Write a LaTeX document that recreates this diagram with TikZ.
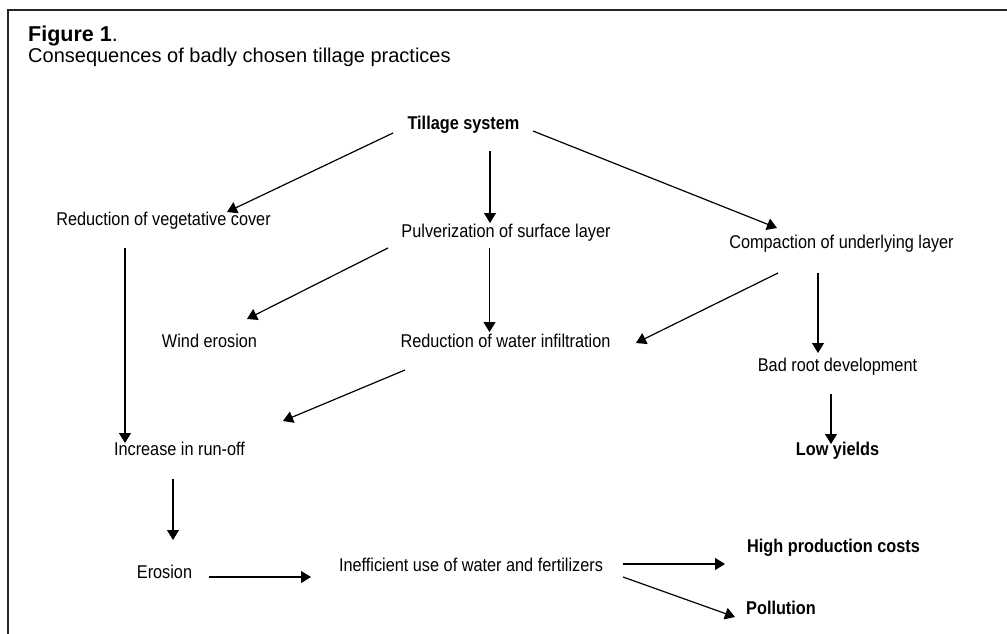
\documentclass[tikz,border=0pt]{standalone}
\usepackage{fontspec}
\setmainfont{Liberation Sans}
\newfontfamily\nf{Liberation Sans}[FakeStretch=0.88]
\usetikzlibrary{arrows.meta}
\tikzset{
  lbl/.style={anchor=base, inner sep=0pt, font=\nf\fontsize{18.5}{21}\selectfont},
  blbl/.style={lbl, font=\nf\bfseries\fontsize{18.5}{21}\selectfont},
  arr/.style={line width=1.2pt, -{Triangle[length=10pt,width=12pt]}},
  frame/.style={line width=2pt, black!85},
}
\begin{document}
\begin{tikzpicture}[x=1pt,y=-1pt]
\useasboundingbox (0,0) rectangle (1007,634);
\fill[white] (0,0) rectangle (1007,634);
\draw[frame] (1007,10.5) -- (8,10.5) -- (8,634);
\node[anchor=base west, inner sep=0pt, font=\fontsize{21.5}{24}\selectfont] (fig) at (28,42) {\textbf{Figure 1}.};
\node[anchor=base west, inner sep=0pt, font=\fontsize{20}{24}\selectfont] (cap) at (28,63) {Consequences of badly chosen tillage practices};

\node[blbl] (till) at (463.5,129) {Tillage system};
\node[lbl] (veg) at (163.5,225) {Reduction of vegetative cover};
\node[lbl] (pulv) at (506,237) {Pulverization of surface layer};
\node[lbl] (comp) at (841.5,248) {Compaction of underlying layer};
\node[lbl] (wind) at (209.5,347) {Wind erosion};
\node[lbl] (infil) at (505.5,347) {Reduction of water infiltration};
\node[lbl] (root) at (837.5,371) {Bad root development};
\node[blbl] (low) at (837.5,455) {Low yields};
\node[lbl] (run) at (179.5,455) {Increase in run-off};
\node[lbl] (ero) at (164.5,578) {Erosion};
\node[lbl] (ineff) at (471,571) {Inefficient use of water and fertilizers};
\node[blbl] (cost) at (833.5,552) {High production costs};
\node[blbl] (poll) at (781,614) {Pollution};

\draw[arr] ([shift={(26.5,22)}]till.base) -- ([shift={(-16,-14)}]pulv.base);
\draw[arr] ([shift={(-70.5,4)}]till.base) -- ([shift={(63.5,-13)}]veg.base);
\draw[arr] ([shift={(69.5,2)}]till.base) -- ([shift={(-64.5,-20)}]comp.base);
\draw[arr] ([shift={(-38.5,23)}]veg.base) -- ([shift={(-54.5,-12)}]run.base);
\draw[arr] ([shift={(-118,11)}]pulv.base) -- ([shift={(37.5,-28)}]wind.base);
\draw[arr] ([shift={(-16.5,11)}]pulv.base) -- ([shift={(-16,-15)}]infil.base);
\draw[arr] ([shift={(-100.5,23)}]infil.base) -- ([shift={(103.5,-34)}]run.base);
\draw[arr] ([shift={(-63.5,25)}]comp.base) -- ([shift={(130.5,-4)}]infil.base);
\draw[arr] ([shift={(-23.5,25)}]comp.base) -- ([shift={(-19.5,-18)}]root.base);
\draw[arr] ([shift={(-6.5,23)}]root.base) -- ([shift={(-6.5,-11)}]low.base);
\draw[arr] ([shift={(-6.5,24)}]run.base) -- ([shift={(8.5,-38)}]ero.base);
\draw[arr] ([shift={(44.5,-1)}]ero.base) -- ([shift={(-160,6)}]ineff.base);
\draw[arr] ([shift={(152,-7)}]ineff.base) -- ([shift={(-108.5,12)}]cost.base);
\draw[arr] ([shift={(152,6)}]ineff.base) -- ([shift={(-46,3)}]poll.base);
\end{tikzpicture}
\end{document}
